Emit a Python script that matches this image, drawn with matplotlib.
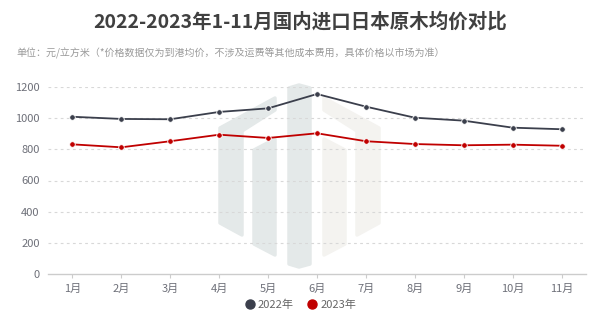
import matplotlib
matplotlib.use("Agg")
import matplotlib.pyplot as plt
from matplotlib.lines import Line2D
from matplotlib.patches import Polygon
from matplotlib.transforms import IdentityTransform

plt.rcParams['font.family'] = ['Noto Sans CJK SC', 'DejaVu Sans']

months = ['1月', '2月', '3月', '4月', '5月', '6月', '7月', '8月', '9月', '10月', '11月']
price_2022 = [1009, 995, 993, 1040, 1063, 1155, 1074, 1003, 984, 939, 929]
price_2023 = [832, 813, 852, 894, 873, 903, 852, 834, 826, 830, 823]
series_names = ['2022年', '2023年']
yticks = [0, 200, 400, 600, 800, 1000, 1200]

color_2022 = '#3b3f4c'
color_2023 = '#c00000'

W, H = 600, 334
fig = plt.figure(figsize=(W / 100, H / 100), dpi=100)
fig.patch.set_facecolor('white')


# background logo, drawn in pixel space (y measured from the top)
def shape(points, color):
    pts = [(x, H - y) for x, y in points]
    poly = Polygon(pts, closed=True, facecolor=color, edgecolor=color,
                   linewidth=2.5, joinstyle='round',
                   transform=IdentityTransform(), zorder=-5)
    fig.add_artist(poly)


cool = '#e4e9e9'
warm = '#f4f3f0'
# left band
shape([(220, 128), (275, 98), (275, 110), (242, 131), (242, 235), (220, 223)], cool)
# left inner bar
shape([(254, 150), (275, 139), (275, 255), (254, 244)], cool)
# center bar
shape([(289, 88), (299, 85), (310, 88), (310, 264), (299, 267), (289, 264)], cool)
# right inner bar
shape([(324, 139), (345, 150), (345, 244), (324, 255)], warm)
# right band
shape([(324, 98), (379, 128), (379, 223), (357, 235), (357, 131), (324, 110)], warm)

ax = fig.add_axes([48 / W, 1 - 274 / H, 538 / W, 187 / H])
ax.patch.set_alpha(0)

x = range(len(months))
ax.plot(x, price_2022, color=color_2022, linewidth=1.3, marker='o',
        markersize=4, markerfacecolor=color_2022, markeredgecolor='white',
        markeredgewidth=0.6, zorder=3)
ax.plot(x, price_2023, color=color_2023, linewidth=1.3, marker='o',
        markersize=4, markerfacecolor=color_2023, markeredgecolor='white',
        markeredgewidth=0.6, zorder=3)

ax.set_xlim(-0.5, len(months) - 0.5)
ax.set_ylim(0, 1200)
ax.set_yticks(yticks)
ax.set_xticks(list(x))
ax.set_xticklabels(months)

for v in yticks[1:]:
    ax.axhline(v, color='#d8d8d8', linewidth=0.8, linestyle=(0, (2.5, 3)), zorder=1)

for side in ['top', 'right', 'left']:
    ax.spines[side].set_visible(False)
ax.spines['bottom'].set_color('#cccccc')
ax.spines['bottom'].set_linewidth(1)

ax.tick_params(axis='y', length=0, labelsize=8, labelcolor='#6e7079', pad=6)
ax.tick_params(axis='x', length=3, color='#cccccc', labelsize=8,
               labelcolor='#6e7079', pad=4)

fig.text(0.5, 1 - 22 / H, '2022-2023年1-11月国内进口日本原木均价对比',
         ha='center', va='center', fontsize=14, fontweight='bold', color='#404040')
fig.text(16 / W, 1 - 53 / H,
         '单位：元/立方米（*价格数据仅为到港均价，不涉及运费等其他成本费用，具体价格以市场为准）',
         ha='left', va='center', fontsize=7.2, color='#9a9a9a')

handles = [Line2D([], [], linestyle='none', marker='o', markersize=6.5,
                  markerfacecolor=c, markeredgecolor=c)
           for c in (color_2022, color_2023)]
leg = fig.legend(handles, series_names, loc='center', ncol=2,
                 bbox_to_anchor=(0.5, 1 - 305 / H), frameon=False,
                 fontsize=8, handletextpad=0.2, columnspacing=1.2,
                 handlelength=1.0)
for t in leg.get_texts():
    t.set_color('#666666')

fig.savefig('out.png', dpi=100)
